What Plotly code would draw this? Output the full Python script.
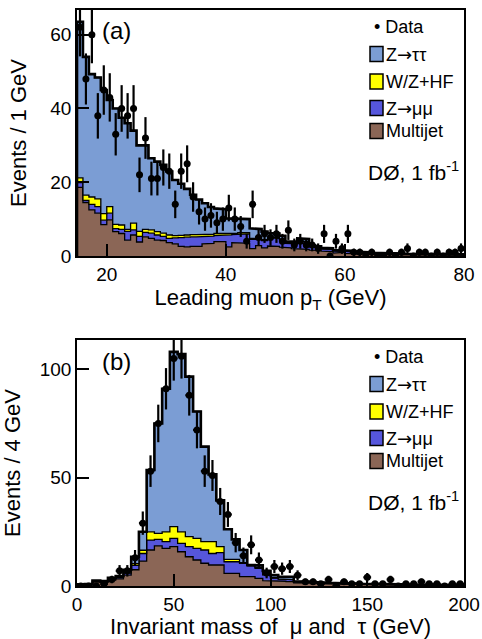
import numpy as np
import plotly.graph_objects as go

# ---------------- Panel (a): leading muon pT, 1 GeV bins, 15-80 GeV ----------------
pt_edges = list(range(15, 81))
pt_multijet = [18.6, 14.5, 12.5, 11.6, 8.5, 9.8, 6.6, 6.1, 4.3, 5.7,
               3.8, 5.2, 4.8, 4.3, 4.2, 3.6, 3.3, 2.6, 2.5, 2.6,
               2.6, 3.3, 3.4, 3.9, 3.9, 2.5, 3.6, 3.6, 3.4, 2.0,
               2.8, 2.2, 2.7, 2.6, 2.4, 2.2, 2.0, 2.0, 1.8, 1.6,
               1.5, 1.3, 1.2, 0.8, 1.0, 0.7, 0.6, 0.7, 0.5, 0.5,
               0.4, 0.4, 0.35, 0.4, 0.35, 0.3, 0.35, 0.3, 0.3, 0.25, 0.3, 0.25, 0.25, 0.3, 0.25]
pt_zmumu = [1.3, 0.6, 1.5, 1.8, 1.2, 1.8, 0.8, 1.1, 2.4, 1.4,
            1.5, 1.2, 1.4, 1.4, 1.1, 1.2, 1.6, 2.4, 2.6, 2.6,
            2.6, 2.0, 2.0, 1.6, 1.8, 3.2, 2.2, 2.4, 2.6, 2.5,
            2.2, 2.0, 2.2, 2.2, 2.0, 1.2, 1.3, 2.0, 2.0, 0.9,
            0.8, 0.6, 0.6, 0.6, 0.4, 0.5, 0.4, 0.3, 0.3, 0.3,
            0.3, 0.2, 0.25, 0.2, 0.2, 0.2, 0.15, 0.2, 0.15, 0.15, 0.15, 0.1, 0.15, 0.1, 0.1]
pt_wzhf = [1.3, 1.4, 2.0, 2.1, 1.8, 1.8, 1.2, 1.2, 0.5, 1.8,
           1.4, 0.8, 0.9, 0.9, 0.9, 0.9, 0.6, 0.6, 0.6, 0.6,
           0.6, 0.5, 0.5, 0.6, 0.5, 0.3, 0.3, 0.3, 0.3, 0.3,
           0.2, 0.2, 0.2, 0.2, 0.2, 0.1, 0.1, 0.1, 0.1, 0.1,
           0.1, 0.1, 0.1, 0.05, 0.05, 0.05, 0.05, 0.0, 0.05, 0.0,
           0.05, 0, 0, 0.05, 0, 0, 0, 0.05, 0, 0, 0, 0, 0.05, 0, 0]
pt_ztautau = [42.3, 37.5, 33.3, 32.9, 33.5, 28.9, 31.4, 29.1, 28.8, 25.1,
              23.3, 22.8, 19.4, 19.0, 18.5, 17.2, 15.1, 14.0, 12.5, 10.8,
              9.5, 8.5, 7.4, 6.8, 6.5, 4.2, 4.1, 3.9, 3.7, 2.7,
              2.1, 2.2, 1.1, 1.1, 0.9, 0.4, 0.5, 0.7, 0.7, 0.3,
              0.2, 0.2, 0.2, 0.15, 0.15, 0.15, 0.15, 0.1, 0.15, 0.1,
              0.15, 0.2, 0.2, 0.15, 0.15, 0.1, 0.2, 0.1, 0.1, 0.15, 0.1, 0.15, 0.05, 0.1, 0.1]
pt_data = [62, 48, 60, 38, 45, 43, 33, 40, 38, 40,
           22, 32, 21, 21, 24, 23, 14, 23, 25, 16,
           12, 10, 11, 9, 10, 13, 10, 8, 4, 14,
           5, 6, 5, 6, 4, 7, 3, 4, 3, 3,
           2, 6, 0, 4, 2, 6, 1, 1, 0, 1,
           0, 0, 1, 0, 1, 2, 0, 1, 1, 0, 1, 0, 1, 1, 2]

# ---------------- Panel (b): invariant mass, 4 GeV bins, 0-200 GeV ----------------
m_edges = list(range(0, 201, 4))
m_multijet = [0.6, 0.7, 1.8, 1.7, 2.7, 3.3, 5.0, 7.5, 11.5, 16.6,
              18.5, 17.4, 18.2, 15.8, 13.5, 12.0, 10.5, 9.7, 9.7, 5.8,
              5.8, 4.3, 4.3, 3.5, 2.5, 2.5, 2.2, 2.0, 1.5, 1.4,
              1.3, 1.1, 1.0, 0.9, 0.9, 0.8, 0.7, 0.7, 0.6, 0.6,
              0.5, 0.5, 0.5, 0.4, 0.4, 0.4, 0.3, 0.3, 0.3, 0.3]
m_zmumu = [0.1, 0.1, 0.3, 0.3, 0.5, 0.6, 1.0, 2.0, 3.5, 4.6,
           3.0, 3.1, 3.8, 3.9, 4.7, 5.4, 6.1, 5.3, 5.7, 5.4,
           5.4, 6.2, 5.0, 4.7, 2.6, 1.2, 1.0, 0.9, 0.5, 0.4,
           0.4, 0.3, 0.3, 0.3, 0.3, 0.3, 0.2, 0.2, 0.2, 0.2,
           0.15, 0.15, 0.15, 0.1, 0.1, 0.1, 0.1, 0.1, 0.1, 0.1]
m_wzhf = [0, 0, 0.1, 0.1, 0.2, 0.2, 0.5, 0.8, 1.5, 3.8,
          2.8, 4.5, 5.4, 5.3, 4.6, 4.6, 3.9, 5.5, 2.8, 1.1,
          1.1, 0.3, 0.1, 0.4, 0.2, 0.1, 0.1, 0.1, 0.05, 0.05,
          0.05, 0.05, 0.05, 0.05, 0, 0, 0, 0, 0, 0,
          0, 0, 0, 0, 0, 0, 0, 0, 0, 0]
m_ztautau = [0.1, 0.1, 0.3, 0.2, 0.4, 0.5, 1.0, 3.2, 8.5, 28.5,
             50.7, 66.0, 80.6, 82.0, 73.8, 58.5, 43.8, 31.0, 21.3, 13.9,
             9.2, 5.8, 0.3, 0.9, 1.7, 1.2, 1.0, 1.3, 0.15, 0.15,
             0.1, 0.15, 0.15, 0.15, 0.1, 0.1, 0.15, 0.1, 0.1, 0.1,
             0.1, 0.1, 0.05, 0.1, 0.1, 0.05, 0.1, 0.05, 0.05, 0.05]
m_data = [0, 0, 0, 1, 3, 7, 7, 13, 29, 53,
          75, 91, 105, 106, 88, 72, 53, 51, 39, 33,
          20, 14, 19, 12, 6, 9, 8, 9, 5, 2,
          2, 1, 3, 0, 2, 1, 1, 4, 1, 1,
          3, 0, 1, 1, 2, 1, 1, 0, 1, 1]

# ---------------- Styling ----------------
ARROW = '<span style="font-family:DejaVu Sans">\u2192</span>'
names = ["Multijet", "Z\u2192\u03bc\u03bc", "W/Z+HF", "Z\u2192\u03c4\u03c4"]
legend_labels = ["Multijet", "Z" + ARROW + "\u03bc\u03bc", "W/Z+HF", "Z" + ARROW + "\u03c4\u03c4"]
colors = ["#8b6656", "#5656dc", "#ffff00", "#7b9dd4"]
FONT = "Liberation Sans, Arial, Helvetica, sans-serif"


def step_xy(edges, vals):
    edges = np.asarray(edges, float)
    vals = np.asarray(vals, float)
    x = np.concatenate([[edges[0]], np.repeat(edges, 2)[1:-1], [edges[-1]]])
    y = np.concatenate([[0.0], np.repeat(vals, 2), [0.0]])
    return x, y


fig = go.Figure()


def add_panel(edges, comps, data, xa, ya):
    cum = np.zeros(len(comps[0]))
    for i, vals in enumerate(comps):
        cum = cum + np.asarray(vals, float)
        x, y = step_xy(edges, cum)
        fig.add_trace(go.Scatter(x=x, y=y, mode="lines", xaxis=xa, yaxis=ya,
                                 line=dict(color="black", width=1.3),
                                 fill="tozeroy" if i == 0 else "tonexty",
                                 fillcolor=colors[i], name=names[i],
                                 hoverinfo="skip", showlegend=False))
    x, y = step_xy(edges, cum)
    fig.add_trace(go.Scatter(x=x, y=y, mode="lines", xaxis=xa, yaxis=ya,
                             line=dict(color="black", width=2.6),
                             hoverinfo="skip", showlegend=False))
    e = np.asarray(edges, float)
    centers = 0.5 * (e[:-1] + e[1:])
    half = 0.5 * (e[1] - e[0])
    d = np.asarray(data, float)
    fig.add_trace(go.Scatter(x=centers, y=d, mode="markers", xaxis=xa, yaxis=ya,
                             marker=dict(color="black", size=7),
                             error_y=dict(type="data", array=np.sqrt(d), color="black",
                                          thickness=2.2, width=0),
                             error_x=dict(type="constant", value=half, color="black",
                                          thickness=2.2, width=0),
                             name="Data", showlegend=False))


add_panel(pt_edges, [pt_multijet, pt_zmumu, pt_wzhf, pt_ztautau], pt_data, "x", "y")
add_panel(m_edges, [m_multijet, m_zmumu, m_wzhf, m_ztautau], m_data, "x2", "y2")

W, H = 482, 639
ML, MR, MT, MB = 77, 18, 10, 53
plot_h = H - MT - MB
top_dom = [(586 - 256) / plot_h, 1.0]
bot_dom = [0.0, (586 - 340) / plot_h]
panel_px = 246.0

axis_common = dict(showline=True, linecolor="black", linewidth=1.5, mirror=True,
                   ticks="inside", ticklen=12, tickwidth=1.5, tickcolor="black",
                   showgrid=False, zeroline=False, automargin=False,
                   tickfont=dict(family=FONT, size=19, color="black"))

fig.update_layout(
    width=W, height=H, margin=dict(l=ML, r=MR, t=MT, b=MB, autoexpand=False),
    plot_bgcolor="white", paper_bgcolor="white", showlegend=False,
    font=dict(family=FONT, color="black"),
    xaxis=dict(axis_common, range=[15, 80], anchor="y", tickvals=[20, 40, 60, 80],
               title=dict(text="Leading muon p<sub>T</sub> (GeV)",
                          font=dict(family=FONT, size=22), standoff=6)),
    yaxis=dict(axis_common, range=[0, 66.7], domain=top_dom, anchor="x",
               tickvals=[0, 20, 40, 60],
               title=dict(text="Events / 1 GeV", font=dict(family=FONT, size=22), standoff=18)),
    xaxis2=dict(axis_common, range=[0, 200], anchor="y2", tickvals=[0, 50, 100, 150, 200],
                title=dict(text="Invariant mass of  \u03bc and  \u03c4 (GeV)",
                           font=dict(family=FONT, size=22), standoff=9)),
    yaxis2=dict(axis_common, range=[0, 113.5], domain=bot_dom, anchor="x2",
                tickvals=[0, 50, 100],
                title=dict(text="Events / 4 GeV", font=dict(family=FONT, size=22), standoff=18)),
)

plot_w = W - ML - MR


def dx(px):
    return (px - ML) / plot_w


def dy(off):
    return 1 - off / panel_px


legend_rows = [(44, legend_labels[3], colors[3]), (71.5, legend_labels[2], colors[2]),
               (98, legend_labels[1], colors[1]), (121, legend_labels[0], colors[0])]

for xa, ya, label in [("x", "y", "(a)"), ("x2", "y2", "(b)")]:
    xr, yr = xa + " domain", ya + " domain"
    fig.add_annotation(xref=xr, yref=yr, x=dx(116.7), y=dy(21), text=label,
                       showarrow=False, xanchor="center", yanchor="middle",
                       font=dict(family=FONT, size=24))
    fig.add_annotation(xref=xr, yref=yr, x=dx(372), y=dy(17), text="\u2022 Data",
                       showarrow=False, xanchor="left", yanchor="middle",
                       font=dict(family=FONT, size=18))
    for off, txt, col in legend_rows:
        fig.add_shape(type="rect", xref=xr, yref=yr,
                      x0=dx(370), x1=dx(383), y0=dy(off + 7.5), y1=dy(off - 7.5),
                      fillcolor=col, line=dict(color="black", width=1.5))
        fig.add_annotation(xref=xr, yref=yr, x=dx(384), y=dy(off), text=txt,
                           showarrow=False, xanchor="left", yanchor="middle",
                           font=dict(family=FONT, size=18))
    fig.add_annotation(xref=xr, yref=yr, x=dx(366), y=dy(161),
                       text="D\u00d8, 1 fb<sup>-1</sup>",
                       showarrow=False, xanchor="left", yanchor="middle",
                       font=dict(family=FONT, size=21))

fig.write_html("out.html")
